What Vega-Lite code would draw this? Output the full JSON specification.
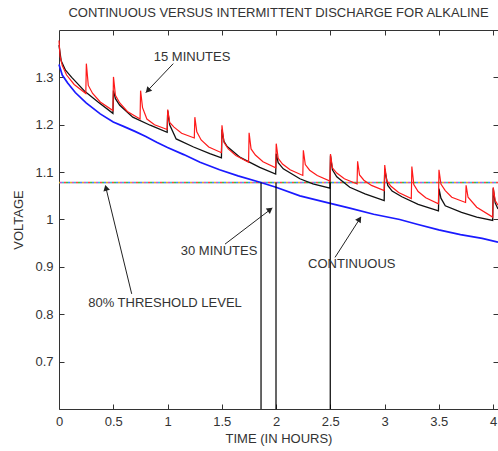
{
  "$schema": "https://vega.github.io/schema/vega-lite/v6.json",
  "width": 439,
  "height": 379,
  "autosize": {"type": "none"},
  "padding": {"left": 59, "top": 30, "right": 0, "bottom": 42},
  "title": {"text": "CONTINUOUS VERSUS INTERMITTENT DISCHARGE FOR ALKALINE", "fontSize": 13, "fontWeight": "normal", "font": "Liberation Sans", "color": "#333333", "offset": 10, "anchor": "middle"},
  "config": {
    "view": {"stroke": "#333333", "strokeWidth": 1},
    "font": "Liberation Sans",
    "axis": {"grid": false, "domain": false, "tickColor": "#333333", "labelColor": "#333333", "titleColor": "#333333", "labelFontSize": 13, "titleFontSize": 13, "titleFontWeight": "normal", "labelFont": "Liberation Sans", "titleFont": "Liberation Sans", "tickSize": -5, "labelPadding": 11, "labelFlush": false, "labelOverlap": false}
  },
  "datasets": {
    "blue": [
      {"t": 0, "v": 1.327}, {"t": 0.03, "v": 1.305}, {"t": 0.08, "v": 1.288}, {"t": 0.15, "v": 1.268}, {"t": 0.25, "v": 1.246},
      {"t": 0.38, "v": 1.223}, {"t": 0.5, "v": 1.206}, {"t": 0.6, "v": 1.196}, {"t": 0.7, "v": 1.186}, {"t": 0.8, "v": 1.175},
      {"t": 0.9, "v": 1.163}, {"t": 1.0, "v": 1.152}, {"t": 1.15, "v": 1.137}, {"t": 1.3, "v": 1.121}, {"t": 1.48, "v": 1.105},
      {"t": 1.65, "v": 1.092}, {"t": 1.86, "v": 1.078}, {"t": 2.0, "v": 1.068}, {"t": 2.22, "v": 1.05}, {"t": 2.5, "v": 1.034},
      {"t": 2.68, "v": 1.024}, {"t": 2.9, "v": 1.011}, {"t": 3.14, "v": 1.0}, {"t": 3.3, "v": 0.99}, {"t": 3.5, "v": 0.978},
      {"t": 3.7, "v": 0.968}, {"t": 3.9, "v": 0.96}, {"t": 4.046, "v": 0.952}
    ],
    "black": [
      {"t": 0, "v": 1.368}, {"t": 0.02, "v": 1.335}, {"t": 0.06, "v": 1.315}, {"t": 0.117, "v": 1.3}, {"t": 0.24, "v": 1.27}, {"t": 0.36, "v": 1.248}, {"t": 0.497, "v": 1.224},
      {"t": 0.502, "v": 1.272}, {"t": 0.52, "v": 1.255}, {"t": 0.56, "v": 1.241}, {"t": 0.68, "v": 1.216}, {"t": 0.84, "v": 1.199}, {"t": 0.997, "v": 1.184},
      {"t": 1.002, "v": 1.23}, {"t": 1.02, "v": 1.2}, {"t": 1.08, "v": 1.17}, {"t": 1.24, "v": 1.153}, {"t": 1.39, "v": 1.139}, {"t": 1.497, "v": 1.13},
      {"t": 1.502, "v": 1.19}, {"t": 1.52, "v": 1.165}, {"t": 1.55, "v": 1.154}, {"t": 1.67, "v": 1.131}, {"t": 1.85, "v": 1.11}, {"t": 1.997, "v": 1.096},
      {"t": 2.002, "v": 1.139}, {"t": 2.02, "v": 1.12}, {"t": 2.067, "v": 1.107}, {"t": 2.22, "v": 1.086}, {"t": 2.34, "v": 1.075}, {"t": 2.497, "v": 1.066},
      {"t": 2.502, "v": 1.135}, {"t": 2.52, "v": 1.105}, {"t": 2.56, "v": 1.09}, {"t": 2.68, "v": 1.068}, {"t": 2.82, "v": 1.054}, {"t": 2.997, "v": 1.04},
      {"t": 3.002, "v": 1.107}, {"t": 3.03, "v": 1.072}, {"t": 3.07, "v": 1.06}, {"t": 3.16, "v": 1.048}, {"t": 3.31, "v": 1.032}, {"t": 3.497, "v": 1.018},
      {"t": 3.502, "v": 1.065}, {"t": 3.52, "v": 1.045}, {"t": 3.56, "v": 1.029}, {"t": 3.71, "v": 1.015}, {"t": 3.85, "v": 1.005}, {"t": 3.997, "v": 0.998},
      {"t": 4.002, "v": 1.066}, {"t": 4.02, "v": 1.035}, {"t": 4.046, "v": 1.022}
    ],
    "red": [
      {"t": 0, "v": 1.378}, {"t": 0.01, "v": 1.345}, {"t": 0.03, "v": 1.325}, {"t": 0.07, "v": 1.305}, {"t": 0.14, "v": 1.285}, {"t": 0.247, "v": 1.266},
      {"t": 0.252, "v": 1.329}, {"t": 0.27, "v": 1.283}, {"t": 0.31, "v": 1.266}, {"t": 0.38, "v": 1.248}, {"t": 0.497, "v": 1.23},
      {"t": 0.502, "v": 1.301}, {"t": 0.52, "v": 1.262}, {"t": 0.56, "v": 1.246}, {"t": 0.63, "v": 1.228}, {"t": 0.747, "v": 1.212},
      {"t": 0.752, "v": 1.272}, {"t": 0.77, "v": 1.236}, {"t": 0.81, "v": 1.212}, {"t": 0.88, "v": 1.2}, {"t": 0.997, "v": 1.19},
      {"t": 1.002, "v": 1.232}, {"t": 1.02, "v": 1.205}, {"t": 1.06, "v": 1.195}, {"t": 1.13, "v": 1.182}, {"t": 1.247, "v": 1.172},
      {"t": 1.252, "v": 1.216}, {"t": 1.27, "v": 1.185}, {"t": 1.31, "v": 1.168}, {"t": 1.38, "v": 1.153}, {"t": 1.497, "v": 1.141},
      {"t": 1.502, "v": 1.199}, {"t": 1.52, "v": 1.163}, {"t": 1.56, "v": 1.149}, {"t": 1.63, "v": 1.135}, {"t": 1.747, "v": 1.121},
      {"t": 1.752, "v": 1.183}, {"t": 1.77, "v": 1.149}, {"t": 1.81, "v": 1.136}, {"t": 1.88, "v": 1.122}, {"t": 1.997, "v": 1.109},
      {"t": 2.002, "v": 1.16}, {"t": 2.02, "v": 1.129}, {"t": 2.06, "v": 1.117}, {"t": 2.13, "v": 1.105}, {"t": 2.247, "v": 1.093},
      {"t": 2.252, "v": 1.146}, {"t": 2.27, "v": 1.116}, {"t": 2.31, "v": 1.104}, {"t": 2.38, "v": 1.093}, {"t": 2.497, "v": 1.081},
      {"t": 2.502, "v": 1.138}, {"t": 2.52, "v": 1.109}, {"t": 2.56, "v": 1.098}, {"t": 2.63, "v": 1.086}, {"t": 2.747, "v": 1.075},
      {"t": 2.752, "v": 1.123}, {"t": 2.77, "v": 1.094}, {"t": 2.81, "v": 1.083}, {"t": 2.88, "v": 1.072}, {"t": 2.997, "v": 1.061},
      {"t": 3.002, "v": 1.115}, {"t": 3.02, "v": 1.082}, {"t": 3.06, "v": 1.07}, {"t": 3.13, "v": 1.057}, {"t": 3.247, "v": 1.044},
      {"t": 3.252, "v": 1.112}, {"t": 3.27, "v": 1.074}, {"t": 3.31, "v": 1.059}, {"t": 3.38, "v": 1.046}, {"t": 3.497, "v": 1.033},
      {"t": 3.502, "v": 1.105}, {"t": 3.52, "v": 1.075}, {"t": 3.56, "v": 1.061}, {"t": 3.62, "v": 1.047}, {"t": 3.747, "v": 1.036},
      {"t": 3.752, "v": 1.072}, {"t": 3.77, "v": 1.047}, {"t": 3.85, "v": 1.026}, {"t": 3.997, "v": 1.005},
      {"t": 4.002, "v": 1.068}, {"t": 4.02, "v": 1.04}, {"t": 4.046, "v": 1.03}
    ],
    "threshold": [{"v": 1.078}],
    "crossings": [{"t": 1.862}, {"t": 2.0}, {"t": 2.5}],
    "arrows": [
      {"label": "15 MINUTES", "t": 1.053, "v": 1.329}, {"label": "15 MINUTES", "t": 0.8, "v": 1.268},
      {"label": "30 MINUTES", "t": 1.53, "v": 0.948}, {"label": "30 MINUTES", "t": 1.965, "v": 1.024},
      {"label": "CONTINUOUS", "t": 2.544, "v": 0.92}, {"label": "CONTINUOUS", "t": 2.782, "v": 1.005},
      {"label": "80% THRESHOLD LEVEL", "t": 0.67, "v": 0.843}, {"label": "80% THRESHOLD LEVEL", "t": 0.428, "v": 1.071}
    ],
    "heads": [
      {"label": "15 MINUTES", "t": 0.818, "v": 1.272},
      {"label": "30 MINUTES", "t": 1.946, "v": 1.021},
      {"label": "CONTINUOUS", "t": 2.77, "v": 1.001},
      {"label": "80% THRESHOLD LEVEL", "t": 0.433, "v": 1.067}
    ],
    "labels": [
      {"text": "15 MINUTES", "t": 1.226, "v": 1.343},
      {"text": "30 MINUTES", "t": 1.475, "v": 0.933},
      {"text": "CONTINUOUS", "t": 2.698, "v": 0.906},
      {"text": "80% THRESHOLD LEVEL", "t": 0.977, "v": 0.823}
    ]
  },
  "layer": [
    {
      "data": {"name": "threshold"},
      "mark": {"type": "rule", "stroke": "#b0b0b0", "strokeWidth": 1.3},
      "encoding": {"y": {"field": "v", "type": "quantitative", "axis": null}}
    },
    {
      "data": {"name": "threshold"},
      "mark": {"type": "rule", "stroke": "#ff4040", "strokeWidth": 1.5, "strokeDash": [2, 10], "strokeDashOffset": 0},
      "encoding": {"y": {"field": "v", "type": "quantitative", "axis": null}}
    },
    {
      "data": {"name": "threshold"},
      "mark": {"type": "rule", "stroke": "#40c040", "strokeWidth": 1.5, "strokeDash": [2, 10], "strokeDashOffset": 2},
      "encoding": {"y": {"field": "v", "type": "quantitative", "axis": null}}
    },
    {
      "data": {"name": "threshold"},
      "mark": {"type": "rule", "stroke": "#4080ff", "strokeWidth": 1.5, "strokeDash": [2, 10], "strokeDashOffset": 4},
      "encoding": {"y": {"field": "v", "type": "quantitative", "axis": null}}
    },
    {
      "data": {"name": "threshold"},
      "mark": {"type": "rule", "stroke": "#e0b020", "strokeWidth": 1.5, "strokeDash": [2, 10], "strokeDashOffset": 6},
      "encoding": {"y": {"field": "v", "type": "quantitative", "axis": null}}
    },
    {
      "data": {"name": "threshold"},
      "mark": {"type": "rule", "stroke": "#c050d0", "strokeWidth": 1.5, "strokeDash": [2, 10], "strokeDashOffset": 8},
      "encoding": {"y": {"field": "v", "type": "quantitative", "axis": null}}
    },
    {
      "data": {"name": "threshold"},
      "mark": {"type": "rule", "stroke": "#30c0d0", "strokeWidth": 1.5, "strokeDash": [2, 10], "strokeDashOffset": 10},
      "encoding": {"y": {"field": "v", "type": "quantitative", "axis": null}}
    },
    {
      "data": {"name": "blue"},
      "mark": {"type": "line", "stroke": "#1a1aff", "strokeWidth": 1.7},
      "encoding": {
        "x": {"field": "t", "type": "quantitative", "scale": {"domain": [0, 4.046], "nice": false, "zero": false}, "axis": {"orient": "bottom", "values": [0, 0.5, 1, 1.5, 2, 2.5, 3, 3.5, 4], "format": "~g", "title": "TIME (IN HOURS)", "titlePadding": 4}},
        "y": {"field": "v", "type": "quantitative", "scale": {"domain": [0.6, 1.4], "nice": false, "zero": false}, "axis": {"orient": "left", "values": [0.7, 0.8, 0.9, 1.0, 1.1, 1.2, 1.3], "format": "~g", "title": "VOLTAGE", "titlePadding": 9}}
      }
    },
    {
      "data": {"name": "black"},
      "mark": {"type": "line", "stroke": "#111111", "strokeWidth": 1.3},
      "encoding": {
        "x": {"field": "t", "type": "quantitative", "axis": {"orient": "top", "values": [0.5, 1, 1.5, 2, 2.5, 3, 3.5, 4], "labels": false, "title": null}},
        "y": {"field": "v", "type": "quantitative", "axis": {"orient": "right", "values": [0.7, 0.8, 0.9, 1.0, 1.1, 1.2, 1.3], "labels": false, "title": null}}
      }
    },
    {
      "data": {"name": "red"},
      "mark": {"type": "line", "stroke": "#ff1a1a", "strokeWidth": 1.2},
      "encoding": {
        "x": {"field": "t", "type": "quantitative", "axis": null},
        "y": {"field": "v", "type": "quantitative", "axis": null}
      }
    },
    {
      "data": {"name": "crossings"},
      "mark": {"type": "rule", "stroke": "#000000", "strokeWidth": 1.2},
      "encoding": {
        "x": {"field": "t", "type": "quantitative", "axis": null},
        "y": {"datum": 1.078, "type": "quantitative", "axis": null},
        "y2": {"datum": 0.6}
      }
    },
    {
      "data": {"name": "arrows"},
      "mark": {"type": "line", "stroke": "#222222", "strokeWidth": 1},
      "encoding": {
        "x": {"field": "t", "type": "quantitative", "axis": null},
        "y": {"field": "v", "type": "quantitative", "axis": null},
        "detail": {"field": "label", "type": "nominal"}
      }
    },
    {
      "data": {"name": "heads"},
      "transform": [{"filter": "datum.label == '15 MINUTES'"}],
      "mark": {"type": "point", "shape": "triangle-up", "filled": true, "color": "#222222", "size": 45, "angle": 223, "opacity": 1},
      "encoding": {"x": {"field": "t", "type": "quantitative", "axis": null}, "y": {"field": "v", "type": "quantitative", "axis": null}}
    },
    {
      "data": {"name": "heads"},
      "transform": [{"filter": "datum.label == '30 MINUTES'"}],
      "mark": {"type": "point", "shape": "triangle-up", "filled": true, "color": "#222222", "size": 45, "angle": 53, "opacity": 1},
      "encoding": {"x": {"field": "t", "type": "quantitative", "axis": null}, "y": {"field": "v", "type": "quantitative", "axis": null}}
    },
    {
      "data": {"name": "heads"},
      "transform": [{"filter": "datum.label == 'CONTINUOUS'"}],
      "mark": {"type": "point", "shape": "triangle-up", "filled": true, "color": "#222222", "size": 45, "angle": 33, "opacity": 1},
      "encoding": {"x": {"field": "t", "type": "quantitative", "axis": null}, "y": {"field": "v", "type": "quantitative", "axis": null}}
    },
    {
      "data": {"name": "heads"},
      "transform": [{"filter": "datum.label == '80% THRESHOLD LEVEL'"}],
      "mark": {"type": "point", "shape": "triangle-up", "filled": true, "color": "#222222", "size": 45, "angle": 346, "opacity": 1},
      "encoding": {"x": {"field": "t", "type": "quantitative", "axis": null}, "y": {"field": "v", "type": "quantitative", "axis": null}}
    },
    {
      "data": {"name": "labels"},
      "mark": {"type": "text", "font": "Liberation Sans", "fontSize": 13, "color": "#333333", "align": "center", "baseline": "middle"},
      "encoding": {
        "x": {"field": "t", "type": "quantitative", "axis": null},
        "y": {"field": "v", "type": "quantitative", "axis": null},
        "text": {"field": "text", "type": "nominal"}
      }
    }
  ]
}
